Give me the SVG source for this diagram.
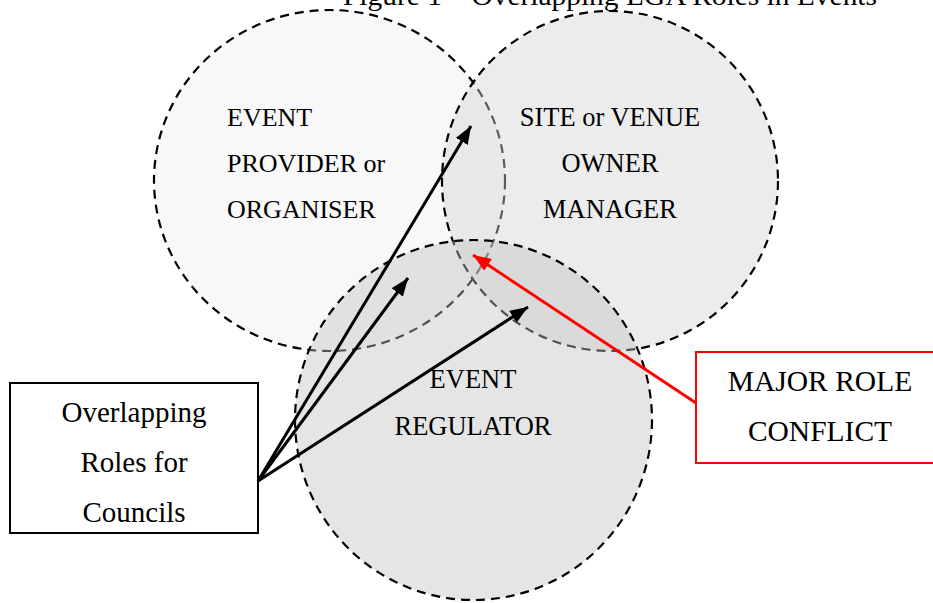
<svg xmlns="http://www.w3.org/2000/svg" width="933" height="603" viewBox="0 0 933 603">
<defs>
<style>
.t{font-family:"Liberation Serif","Times New Roman",serif;fill:#000}
.c{stroke:#000;stroke-width:2.2;stroke-dasharray:9 6}
.a{stroke:#000;stroke-width:3;fill:none}
.r{stroke:#f00;stroke-width:3;fill:none}
</style>
<marker id="ah" viewBox="0 0 18 14" refX="18" refY="7" markerWidth="18" markerHeight="14" markerUnits="userSpaceOnUse" orient="auto"><path d="M0,0 L18,7 L0,14 Z" fill="#000"/></marker>
<marker id="ahr" viewBox="0 0 18 14" refX="18" refY="7" markerWidth="18" markerHeight="14" markerUnits="userSpaceOnUse" orient="auto"><path d="M0,0 L18,7 L0,14 Z" fill="#f00"/></marker>
</defs>
<rect width="933" height="603" fill="#fff"/>
<text class="t" x="610" y="5" font-size="27" text-anchor="middle" textLength="534" lengthAdjust="spacingAndGlyphs">Figure 1 – Overlapping LGA Roles in Events</text>
<g id="provider">
<ellipse class="c" cx="329.5" cy="180.5" rx="175.5" ry="170.5" fill="#f8f8f8"/>
<text class="t" font-size="26"><tspan x="227" y="126">EVENT</tspan><tspan x="227" y="172">PROVIDER or</tspan><tspan x="227" y="218">ORGANISER</tspan></text>
</g>
<g id="site">
<ellipse class="c" cx="610" cy="181" rx="168" ry="170" fill="#d3d3d3" fill-opacity="0.43"/>
<text class="t" font-size="26.5" text-anchor="middle"><tspan x="610" y="126">SITE or VENUE</tspan><tspan x="610" y="172">OWNER</tspan><tspan x="610" y="218">MANAGER</tspan></text>
</g>
<g id="regulator">
<ellipse class="c" cx="473.5" cy="420" rx="178.5" ry="180" fill="#c0c0c0" fill-opacity="0.42"/>
<text class="t" font-size="26.5" text-anchor="middle"><tspan x="473" y="388">EVENT</tspan><tspan x="473" y="435">REGULATOR</tspan></text>
</g>
<g id="councils">
<rect x="10" y="383" width="248" height="150" fill="#fff" stroke="#000" stroke-width="2"/>
<text class="t" font-size="29" text-anchor="middle"><tspan x="134" y="422">Overlapping</tspan><tspan x="134" y="472">Roles for</tspan><tspan x="134" y="522">Councils</tspan></text>
</g>
<g id="conflict">
<rect x="696" y="352" width="250" height="111" fill="#fff" stroke="#f00" stroke-width="2"/>
<text class="t" font-size="29.5" text-anchor="middle"><tspan x="820" y="391">MAJOR ROLE</tspan><tspan x="820" y="441">CONFLICT</tspan></text>
</g>
<g id="connectors">
<line class="a" x1="258" y1="481" x2="471" y2="126" marker-end="url(#ah)"/>
<line class="a" x1="258" y1="481" x2="408" y2="278" marker-end="url(#ah)"/>
<line class="a" x1="258" y1="481" x2="528" y2="307" marker-end="url(#ah)"/>
<line class="r" x1="696" y1="403" x2="473" y2="255" marker-end="url(#ahr)"/>
</g>
</svg>
